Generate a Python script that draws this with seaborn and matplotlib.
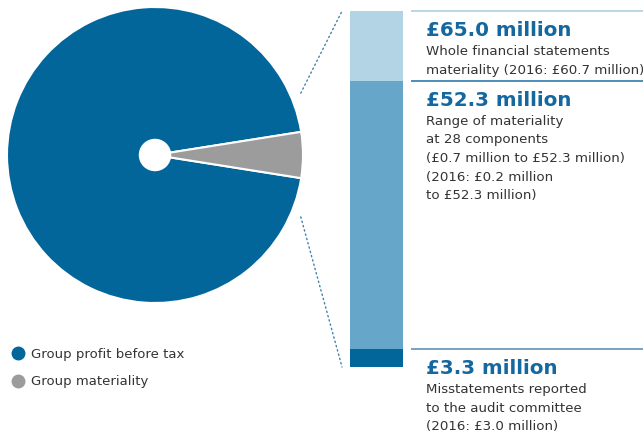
import numpy as np
import matplotlib
matplotlib.use("Agg")
import matplotlib.pyplot as plt
import seaborn as sns
from matplotlib.lines import Line2D
from matplotlib.patches import Circle, ConnectionPatch

# =========================
# DATA
# =========================

pie_labels = ["Group profit before tax", "Group materiality"]
pie_values = [95, 5]

bar_values = [65.0, 52.3, 3.3]
headings = ["£65.0 million", "£52.3 million", "£3.3 million"]
notes = [
    ["Whole financial statements", "materiality (2016: £60.7 million)"],
    ["Range of materiality", "at 28 components",
     "(£0.7 million to £52.3 million)", "(2016: £0.2 million",
     "to £52.3 million)"],
    ["Misstatements reported", "to the audit committee",
     "(2016: £3.0 million)"],
]

# =========================
# STYLE
# =========================

sns.set_theme(style="white")
plt.rcParams["font.family"] = ["DejaVu Sans"]

pie_colors = ["#02669b", "#9c9c9c"]
bar_colors = ["#b3d4e4", "#66a6c8", "#02669b"]
line_colors = ["#a8cde0", "#1b6fa5", "#4f88b2"]
head_color = "#14689f"
text_color = "#333333"

W, H = 643, 432
fig = plt.figure(figsize=(W / 100, H / 100), dpi=100)


def box(left, top, right, bottom):
    return [left / W, 1 - bottom / H, (right - left) / W, (bottom - top) / H]


# =========================
# PIE
# =========================

ax_pie = fig.add_axes(box(7, 7, 303, 303))
ax_pie.pie(
    pie_values,
    colors=pie_colors,
    startangle=9,
    radius=1,
    wedgeprops=dict(edgecolor="white", linewidth=1.5),
)
ax_pie.add_patch(Circle((0, 0), 0.105, color="white", zorder=5))
ax_pie.set_xlim(-1, 1)
ax_pie.set_ylim(-1, 1)
ax_pie.set_aspect("equal")
ax_pie.axis("off")

# =========================
# STACKED BAR
# =========================

ax_bar = fig.add_axes(box(350, 11, 403, 367))
for val, col in zip(bar_values, bar_colors):
    sns.barplot(x=["materiality"], y=[val], color=col, saturation=1,
                width=1, linewidth=0, ax=ax_bar)
ax_bar.set_xlim(-0.5, 0.5)
ax_bar.set_ylim(0, bar_values[0])
ax_bar.axis("off")

# dotted connectors from pie to bar
ang = np.deg2rad(23)
for sign, yb in [(1, 1), (-1, 0)]:
    con = ConnectionPatch(
        xyA=(1.07 * np.cos(ang), sign * 1.07 * np.sin(ang)),
        coordsA=ax_pie.transData,
        xyB=(-0.15, yb),
        coordsB=ax_bar.transAxes,
        color="#3a82b0",
        linestyle=(0, (1, 2.2)),
        linewidth=1,
    )
    fig.add_artist(con)

# guide lines and labels
ytr = ax_bar.get_yaxis_transform()
for val, lc, head, lines in zip(bar_values, line_colors, headings, notes):
    ax_bar.hlines(val, 1.15, 5.6, transform=ytr, color=lc,
                  linewidth=1.1, clip_on=False)
    ax_bar.annotate(head, xy=(1.434, val), xycoords=ytr,
                    xytext=(0, -25 * 0.72), textcoords="offset points",
                    va="baseline", ha="left", fontsize=14.3,
                    fontweight="bold", color=head_color,
                    annotation_clip=False)
    for i, ln in enumerate(lines):
        ax_bar.annotate(ln, xy=(1.434, val), xycoords=ytr,
                        xytext=(0, -(44 + 18.7 * i) * 0.72),
                        textcoords="offset points",
                        va="baseline", ha="left", fontsize=9.6,
                        color=text_color, annotation_clip=False)

# =========================
# LEGEND
# =========================

handles = [
    Line2D([], [], linestyle="none", marker="o", markersize=9,
           markerfacecolor=c, markeredgecolor=c)
    for c in pie_colors
]
fig.legend(
    handles, pie_labels,
    loc="upper left",
    bbox_to_anchor=(0.4 / W, 1 - 336 / H),
    frameon=False,
    fontsize=9.5,
    handlelength=0.8,
    handletextpad=0.6,
    labelspacing=1.08,
    labelcolor=text_color,
)

fig.savefig("out.png", dpi=100)
